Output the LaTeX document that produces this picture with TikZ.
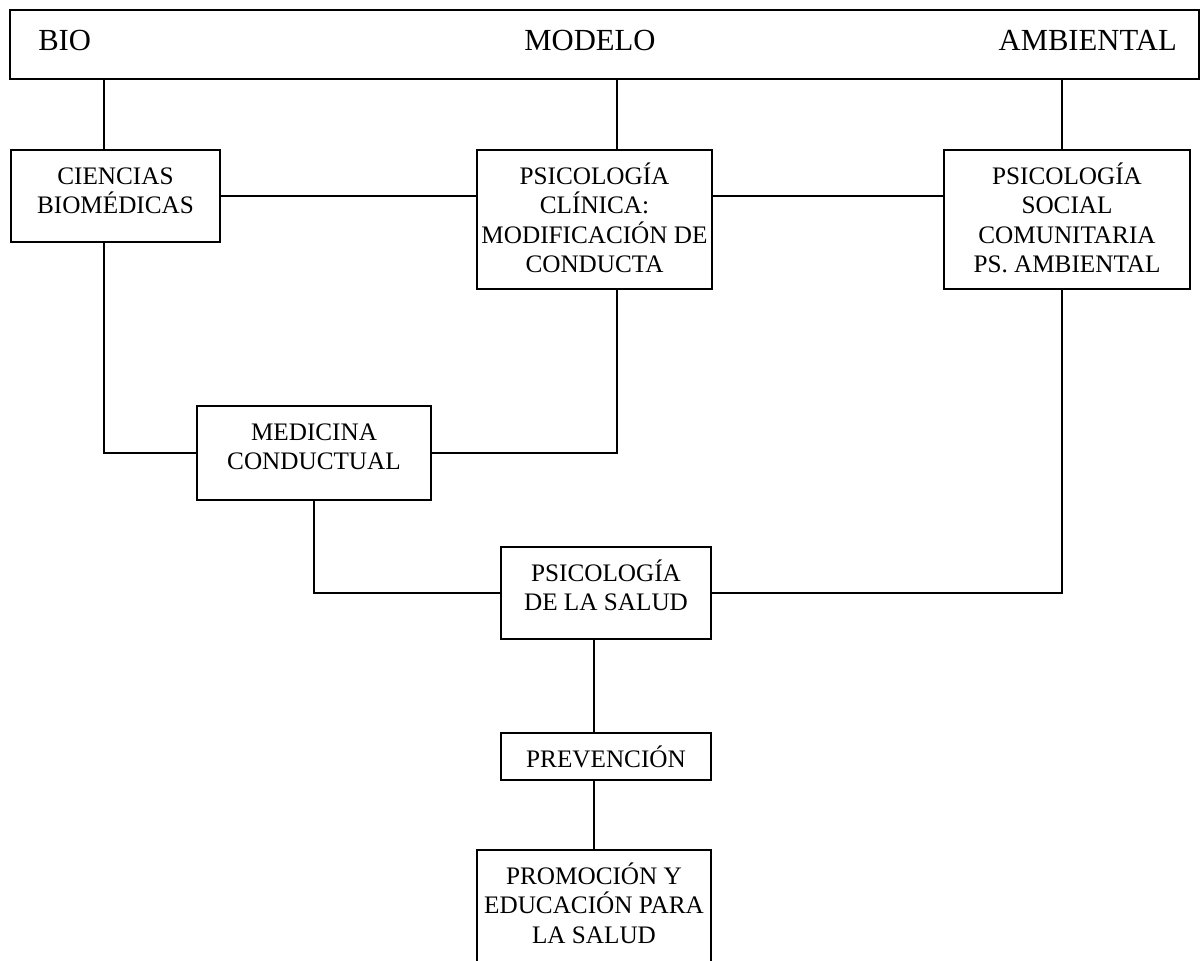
\documentclass[tikz,border=0pt]{standalone}
\usepackage{fontspec}
\setmainfont{Liberation Serif}
\tikzset{
  box/.style={draw, rectangle, line width=1.3pt, inner sep=0pt, outer sep=0pt},
  link/.style={draw, line width=1.3pt},
  toptext/.style={inner sep=0pt, font=\fontsize{23}{27}\selectfont}
}
\newcommand{\bx}[6]{%
  \pgfmathsetmacro{\bw}{(#4-#2)*0.75}%
  \pgfmathsetmacro{\bh}{(#5-#3)*0.75}%
  \node[box, minimum width=\bw pt, minimum height=\bh pt] (#1) at ({(#2+#4)/2},{(#3+#5)/2})
    {\parbox[c][\bh pt][t]{\bw pt}{\fontsize{18.9}{21.9}\selectfont\centering\rule{0pt}{26pt}#6}};}
\begin{document}
\begin{tikzpicture}[x=0.75pt,y=-0.75pt]
\useasboundingbox (0,0) rectangle (1201,960);
\clip (0,0) rectangle (1201,960);
\fill[white] (0,0) rectangle (1201,960);
% top box
\node[box, minimum width={1189*0.75pt}, minimum height={69*0.75pt}] (top) at (604.5,44.5) {};
\node[toptext, anchor=base west] (bio) at (38,50) {BIO};
\node[toptext, anchor=base] (modelo) at (590,50) {MODELO};
\node[toptext, anchor=base east] (ambiental) at (1177,50) {AMBIENTAL};
% boxes
\bx{ciencias}{11}{150}{220}{242}{CIENCIAS\\BIOMÉDICAS}
\bx{clin}{477}{150}{712}{289}{PSICOLOGÍA\\CLÍNICA:\\MODIFICACIÓN DE\\CONDUCTA}
\bx{soc}{944}{150}{1190}{289}{PSICOLOGÍA\\SOCIAL\\COMUNITARIA\\PS. AMBIENTAL}
\bx{med}{197}{406}{431}{500}{MEDICINA\\CONDUCTUAL}
\bx{salud}{501}{547}{711}{639}{PSICOLOGÍA\\DE LA SALUD}
\bx{prev}{501}{733}{711}{780}{PREVENCIÓN}
\bx{prom}{477}{850}{711}{1000}{PROMOCIÓN Y\\EDUCACIÓN PARA\\LA SALUD}
% connectors
\draw[link] (top.south -| 104,0) -- (ciencias.north -| 104,0);
\draw[link] (top.south -| 617,0) -- (clin.north -| 617,0);
\draw[link] (top.south -| 1062,0) -- (soc.north -| 1062,0);
\draw[link] (ciencias.east |- 0,196) -- (clin.west |- 0,196);
\draw[link] (clin.east |- 0,196) -- (soc.west |- 0,196);
\draw[link] (ciencias.south -| 104,0) |- (med.west);
\draw[link] (clin.south -| 617,0) |- (med.east);
\draw[link] (med.south -| 314,0) |- (salud.west);
\draw[link] (soc.south -| 1062,0) |- (salud.east);
\draw[link] (salud.south -| 594,0) -- (prev.north -| 594,0);
\draw[link] (prev.south -| 594,0) -- (prom.north -| 594,0);
\end{tikzpicture}
\end{document}
